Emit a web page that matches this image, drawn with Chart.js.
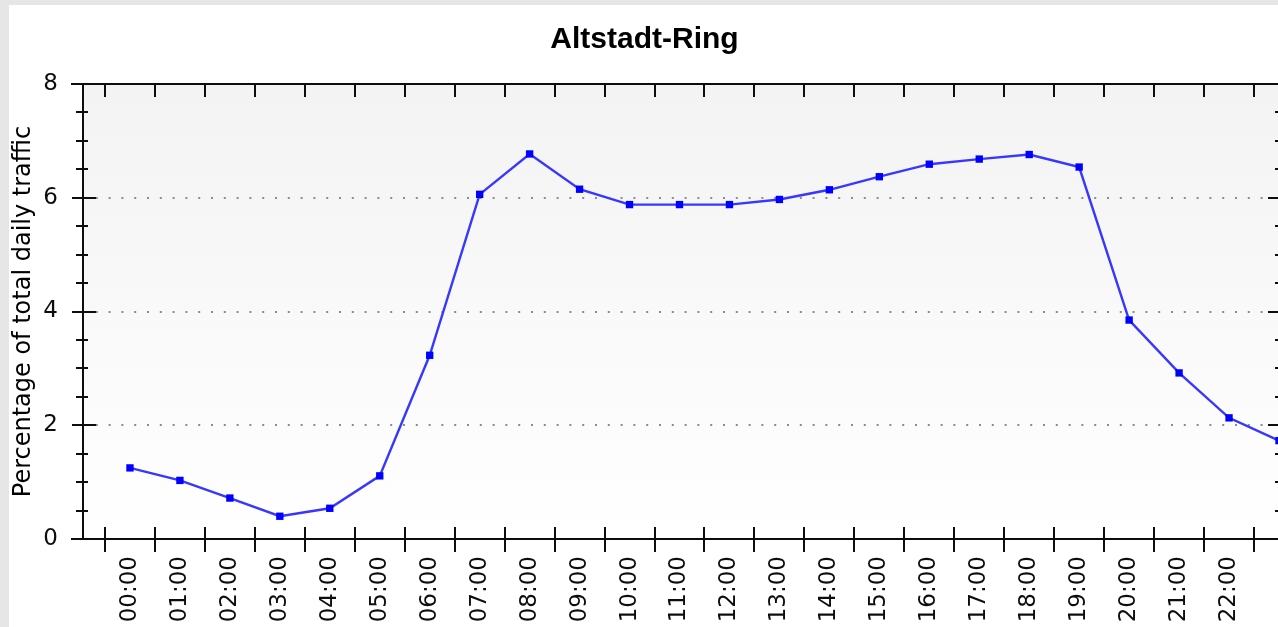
<!DOCTYPE html>
<html>
<head>
<meta charset="utf-8">
<script src="https://cdn.jsdelivr.net/npm/chart.js@4/dist/chart.umd.min.js"></script>
<style>
  html, body { margin: 0; padding: 0; background: #e6e6e6; overflow: hidden; width: 1278px; height: 627px; }
  #panel { position: absolute; left: 9px; top: 5px; width: 1300px; height: 700px; background: #fff; }
</style>
</head>
<body>
<div id="panel"><canvas id="chart" width="1300" height="700"></canvas></div>
<script>
// hour of day (x) and share of the daily traffic in % (y)
const hourValues = [0, 1, 2, 3, 4, 5, 6, 7, 8, 9, 10, 11, 12, 13, 14, 15, 16, 17, 18, 19, 20, 21, 22, 23];
const hourLabels = ['00:00','01:00','02:00','03:00','04:00','05:00','06:00','07:00','08:00','09:00','10:00','11:00',
                    '12:00','13:00','14:00','15:00','16:00','17:00','18:00','19:00','20:00','21:00','22:00','23:00'];
const trafficShare = [1.25, 1.03, 0.72, 0.40, 0.54, 1.11, 3.23, 6.06, 6.77, 6.15, 5.88, 5.88,
                      5.88, 5.97, 6.14, 6.37, 6.59, 6.68, 6.76, 6.54, 3.85, 2.92, 2.13, 1.73];
const yMajor = [0, 2, 4, 6, 8];
const yMinor = [0.5, 1, 1.5, 2.5, 3, 3.5, 4.5, 5, 5.5, 6.5, 7, 7.5];

const X_MIN = -0.94, X_MAX = 23.02;
const INK = '#0d0d0d';
const tickFont = { family: 'DejaVu Sans', size: 23 };

// plot background gradient + axis frame with ticks (drawn from the scales)
const frame = {
  id: 'frame',
  beforeDraw(chart) {
    const { ctx, chartArea: a } = chart;
    const g = ctx.createLinearGradient(0, a.top, 0, a.bottom);
    g.addColorStop(0, '#f3f3f3');
    g.addColorStop(1, '#ffffff');
    ctx.save();
    ctx.fillStyle = g;
    ctx.fillRect(a.left, a.top, a.right - a.left, a.bottom - a.top);
    ctx.restore();
  },
  beforeDatasetsDraw(chart) {
    const { ctx, chartArea: a, scales: { x, y } } = chart;
    const L = Math.round(a.left), R = Math.round(a.right), T = Math.round(a.top), B = Math.round(a.bottom);
    const seg = (x1, y1, x2, y2) => { ctx.moveTo(x1, y1); ctx.lineTo(x2, y2); };
    ctx.save();
    ctx.strokeStyle = INK;
    ctx.lineWidth = 2;
    ctx.beginPath();
    seg(L - 12, T, R, T);
    seg(L - 12, B, R, B);
    seg(L, T, L, B);
    seg(R, T, R, B);
    hourValues.forEach((h) => {
      const px = Math.round(x.getPixelForValue(h - 0.5));
      if (px <= L || px >= R) return;
      seg(px, B - 12, px, B + 13);
      seg(px, T, px, T + 13);
    });
    yMajor.forEach((v) => {
      const py = Math.round(y.getPixelForValue(v));
      seg(L - 11, py, L + 13, py);
      seg(R - 12, py, R, py);
    });
    yMinor.forEach((v) => {
      const py = Math.round(y.getPixelForValue(v));
      seg(L - 7, py, L + 5, py);
      seg(R - 5, py, R, py);
    });
    ctx.stroke();
    ctx.restore();
  }
};

new Chart(document.getElementById('chart'), {
  type: 'line',
  data: {
    datasets: [{
      data: hourValues.map((h, i) => ({ x: h, y: trafficShare[i] })),
      borderColor: 'rgb(55,55,255)',
      borderWidth: 2.4,
      tension: 0,
      pointStyle: 'rect',
      pointRadius: 5.2,
      pointBorderWidth: 0,
      pointBackgroundColor: '#0000ff',
      pointBorderColor: '#0000ff'
    }]
  },
  options: {
    responsive: false,
    animation: false,
    devicePixelRatio: 1,
    layout: { padding: { left: 0, right: 29, top: 0, bottom: 0 } },
    plugins: {
      legend: { display: false },
      tooltip: { enabled: false },
      title: {
        display: true,
        text: 'Altstadt-Ring',
        color: '#000',
        font: { family: 'Liberation Sans', size: 30, weight: 'bold' },
        padding: { top: 17, bottom: 26 }
      }
    },
    scales: {
      x: {
        type: 'linear',
        min: X_MIN,
        max: X_MAX,
        // the 23:00 label falls outside the visible picture
        afterBuildTicks: (s) => { s.ticks = hourValues.filter((v) => v < 23).map((v) => ({ value: v })); },
        afterFit: (s) => { s.height = 166; },
        ticks: {
          autoSkip: false,
          minRotation: 90,
          maxRotation: 90,
          padding: 4,
          color: INK,
          font: tickFont,
          callback: (v, i) => hourLabels[i]
        },
        grid: { display: true, drawOnChartArea: false, drawTicks: true, tickLength: 13, color: 'transparent', tickColor: 'transparent' },
        border: { display: false }
      },
      y: {
        min: 0,
        max: 8,
        afterFit: (s) => { s.width = 74; },
        ticks: { stepSize: 2, padding: 14, color: INK, font: tickFont },
        grid: {
          drawTicks: true,
          tickLength: 11,
          tickColor: 'transparent',
          lineWidth: 2,
          color: (c) => (c.tick && c.tick.value > 0 && c.tick.value < 8 ? '#8c8c8c' : 'transparent')
        },
        border: { display: false, dash: [2, 10.8] },
        title: {
          display: true,
          text: 'Percentage of total daily traffic',
          color: '#000',
          font: { family: 'DejaVu Sans', size: 24 },
          padding: 0
        }
      }
    }
  },
  plugins: [frame]
});
</script>
</body>
</html>
